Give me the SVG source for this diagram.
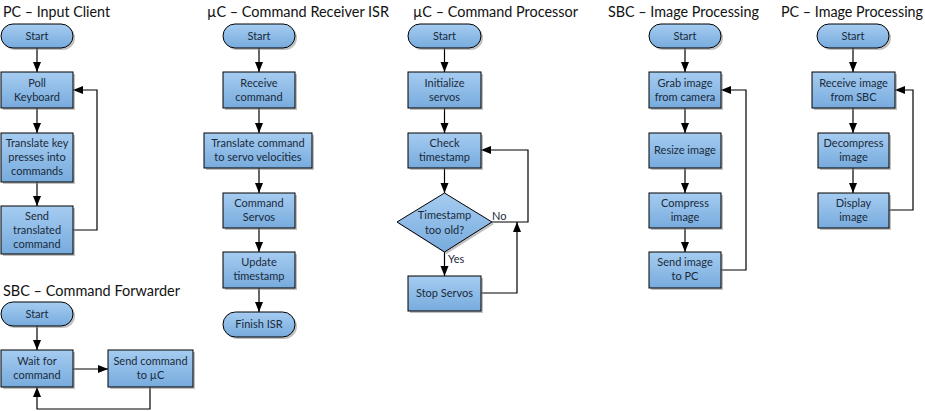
<svg xmlns="http://www.w3.org/2000/svg" width="925" height="411" viewBox="0 0 925 411">
<defs>
<linearGradient id="g" x1="0" y1="0" x2="0" y2="1">
<stop offset="0" stop-color="#a6ccf1"/>
<stop offset="1" stop-color="#77abdd"/>
</linearGradient>
<marker id="ah" markerUnits="userSpaceOnUse" markerWidth="10" markerHeight="10" viewBox="0 0 10 10" refX="10" refY="5" orient="auto">
<path d="M0 1 L10 5 L0 9 Z" fill="#000"/>
</marker>
</defs>
<style>
.title{font-family:Lato,"Liberation Sans",sans-serif;font-size:14.5px;fill:#111}
.t{font-family:Lato,"Liberation Sans",sans-serif;font-size:11px;fill:#1a2a3a;text-anchor:middle}
.box{fill:url(#g);stroke:#000;stroke-width:1}
.sh{fill:#8c8c8c;opacity:0.55}
.c{fill:none;stroke:#000;stroke-width:1.2;marker-end:url(#ah)}
.lbl{font-family:Lato,"Liberation Sans",sans-serif;font-size:11px;fill:#1a2a3a}
</style>
<rect width="925" height="411" fill="#fff"/>

<g id="titles">
<text class="title" x="3" y="17" textLength="107" lengthAdjust="spacingAndGlyphs">PC – Input Client</text>
<text class="title" x="3" y="296" textLength="177" lengthAdjust="spacingAndGlyphs">SBC – Command Forwarder</text>
<text class="title" x="207" y="17" textLength="182" lengthAdjust="spacingAndGlyphs">µC – Command Receiver ISR</text>
<text class="title" x="413" y="17" textLength="165" lengthAdjust="spacingAndGlyphs">µC – Command Processor</text>
<text class="title" x="608" y="17" textLength="151" lengthAdjust="spacingAndGlyphs">SBC – Image Processing</text>
<text class="title" x="781" y="17" textLength="142" lengthAdjust="spacingAndGlyphs">PC – Image Processing</text>
</g>

<g id="connectors">
<path class="c" d="M37 48 V72"/>
<path class="c" d="M37 108 V133"/>
<path class="c" d="M37 182 V206"/>
<path class="c" d="M73 230 H97 V90 H73"/>
<path class="c" d="M37 326 V350"/>
<path class="c" d="M73 369 H108"/>
<path class="c" d="M150 387 V409 H37 V387"/>
<path class="c" d="M259 48 V72"/>
<path class="c" d="M259 108 V133"/>
<path class="c" d="M259 168 V193"/>
<path class="c" d="M259 228 V252"/>
<path class="c" d="M259 288 V312"/>
<path class="c" d="M444.5 48 V72"/>
<path class="c" d="M444.5 108 V133"/>
<path class="c" d="M444.5 168 V193"/>
<path class="c" d="M444.5 252 V276"/>
<path class="c" d="M492 222 H528 V150 H481"/>
<path class="c" d="M481 293 H517 V222"/>
<path class="c" d="M685 48 V72"/>
<path class="c" d="M685 108 V133"/>
<path class="c" d="M685 168 V193"/>
<path class="c" d="M685 228 V252"/>
<path class="c" d="M721 270 H746 V90 H721"/>
<path class="c" d="M853 48 V72"/>
<path class="c" d="M853 108 V133"/>
<path class="c" d="M853 168 V193"/>
<path class="c" d="M889 210 H913 V90 H895"/>
<text class="lbl" x="492" y="220">No</text>
<text class="lbl" x="448" y="263">Yes</text>
</g>

<g id="pc-start"><rect class="sh" x="3" y="26" width="72" height="24" rx="12"/><rect class="box" x="1" y="24" width="72" height="24" rx="12"/><text class="t" x="37" y="40">Start</text></g>
<g id="pc-poll"><rect class="sh" x="3" y="74" width="72" height="36"/><rect class="box" x="1" y="72" width="72" height="36"/><text class="t" x="37" y="87">Poll</text><text class="t" x="37" y="101">Keyboard</text></g>
<g id="pc-translate"><rect class="sh" x="3" y="135" width="72" height="49"/><rect class="box" x="1" y="133" width="72" height="49"/><text class="t" x="37" y="147">Translate key</text><text class="t" x="37" y="161">presses into</text><text class="t" x="37" y="175">commands</text></g>
<g id="pc-send"><rect class="sh" x="3" y="208" width="72" height="48"/><rect class="box" x="1" y="206" width="72" height="48"/><text class="t" x="37" y="220">Send</text><text class="t" x="37" y="234">translated</text><text class="t" x="37" y="248">command</text></g>

<g id="fw-start"><rect class="sh" x="3" y="304" width="72" height="24" rx="12"/><rect class="box" x="1" y="302" width="72" height="24" rx="12"/><text class="t" x="37" y="318">Start</text></g>
<g id="fw-wait"><rect class="sh" x="3" y="352" width="72" height="37"/><rect class="box" x="1" y="350" width="72" height="37"/><text class="t" x="37" y="365">Wait for</text><text class="t" x="37" y="379">command</text></g>
<g id="fw-send"><rect class="sh" x="110" y="352" width="85" height="37"/><rect class="box" x="108" y="350" width="85" height="37"/><text class="t" x="150.5" y="365">Send command</text><text class="t" x="150.5" y="379">to µC</text></g>

<g id="isr-start"><rect class="sh" x="225" y="26" width="72" height="24" rx="12"/><rect class="box" x="223" y="24" width="72" height="24" rx="12"/><text class="t" x="259" y="40">Start</text></g>
<g id="isr-receive"><rect class="sh" x="225" y="74" width="72" height="36"/><rect class="box" x="223" y="72" width="72" height="36"/><text class="t" x="259" y="87">Receive</text><text class="t" x="259" y="101">command</text></g>
<g id="isr-translate"><rect class="sh" x="206" y="135" width="108" height="35"/><rect class="box" x="204" y="133" width="108" height="35"/><text class="t" x="258" y="147">Translate command</text><text class="t" x="258" y="161">to servo velocities</text></g>
<g id="isr-servos"><rect class="sh" x="225" y="195" width="72" height="35"/><rect class="box" x="223" y="193" width="72" height="35"/><text class="t" x="259" y="207">Command</text><text class="t" x="259" y="221">Servos</text></g>
<g id="isr-update"><rect class="sh" x="225" y="254" width="72" height="36"/><rect class="box" x="223" y="252" width="72" height="36"/><text class="t" x="259" y="266">Update</text><text class="t" x="259" y="280">timestamp</text></g>
<g id="isr-finish"><rect class="sh" x="225" y="314" width="72" height="25" rx="12.5"/><rect class="box" x="223" y="312" width="72" height="25" rx="12.5"/><text class="t" x="259" y="328">Finish ISR</text></g>

<g id="proc-start"><rect class="sh" x="410" y="26" width="73" height="24" rx="12"/><rect class="box" x="408" y="24" width="73" height="24" rx="12"/><text class="t" x="444.5" y="40">Start</text></g>
<g id="proc-init"><rect class="sh" x="410" y="74" width="73" height="36"/><rect class="box" x="408" y="72" width="73" height="36"/><text class="t" x="444.5" y="87">Initialize</text><text class="t" x="444.5" y="101">servos</text></g>
<g id="proc-check"><rect class="sh" x="410" y="135" width="73" height="35"/><rect class="box" x="408" y="133" width="73" height="35"/><text class="t" x="444.5" y="147">Check</text><text class="t" x="444.5" y="161">timestamp</text></g>
<g id="proc-decision"><polygon class="sh" points="446.5,195 494,224 446.5,254 399,224"/><polygon class="box" points="444.5,193 492,222 444.5,252 397,222"/><text class="t" x="444.5" y="219">Timestamp</text><text class="t" x="444.5" y="234">too old?</text></g>
<g id="proc-stop"><rect class="sh" x="410" y="278" width="73" height="35"/><rect class="box" x="408" y="276" width="73" height="35"/><text class="t" x="444.5" y="297">Stop Servos</text></g>

<g id="sbc-start"><rect class="sh" x="651" y="26" width="72" height="24" rx="12"/><rect class="box" x="649" y="24" width="72" height="24" rx="12"/><text class="t" x="685" y="40">Start</text></g>
<g id="sbc-grab"><rect class="sh" x="651" y="74" width="72" height="36"/><rect class="box" x="649" y="72" width="72" height="36"/><text class="t" x="685" y="87">Grab image</text><text class="t" x="685" y="101">from camera</text></g>
<g id="sbc-resize"><rect class="sh" x="651" y="135" width="72" height="35"/><rect class="box" x="649" y="133" width="72" height="35"/><text class="t" x="685" y="154">Resize image</text></g>
<g id="sbc-compress"><rect class="sh" x="651" y="195" width="72" height="35"/><rect class="box" x="649" y="193" width="72" height="35"/><text class="t" x="685" y="207">Compress</text><text class="t" x="685" y="221">image</text></g>
<g id="sbc-send"><rect class="sh" x="651" y="254" width="72" height="36"/><rect class="box" x="649" y="252" width="72" height="36"/><text class="t" x="685" y="266">Send image</text><text class="t" x="685" y="280">to PC</text></g>

<g id="pci-start"><rect class="sh" x="819" y="26" width="72" height="24" rx="12"/><rect class="box" x="817" y="24" width="72" height="24" rx="12"/><text class="t" x="853" y="40">Start</text></g>
<g id="pci-receive"><rect class="sh" x="814" y="74" width="83" height="36"/><rect class="box" x="812" y="72" width="83" height="36"/><text class="t" x="853.5" y="87">Receive image</text><text class="t" x="853.5" y="101">from SBC</text></g>
<g id="pci-decompress"><rect class="sh" x="820" y="135" width="71" height="35"/><rect class="box" x="818" y="133" width="71" height="35"/><text class="t" x="853.5" y="147">Decompress</text><text class="t" x="853.5" y="161">image</text></g>
<g id="pci-display"><rect class="sh" x="820" y="195" width="71" height="35"/><rect class="box" x="818" y="193" width="71" height="35"/><text class="t" x="853.5" y="207">Display</text><text class="t" x="853.5" y="221">image</text></g>
</svg>
